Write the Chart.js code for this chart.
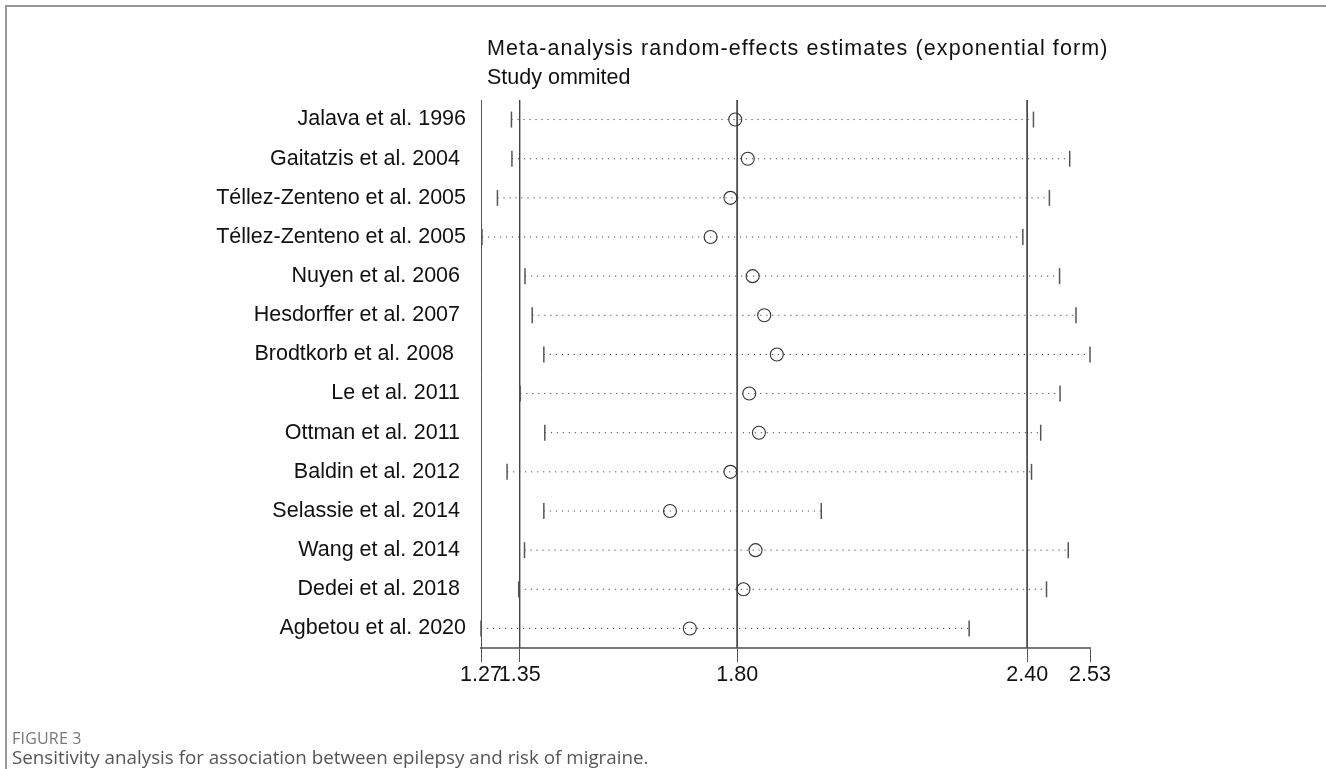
<!DOCTYPE html>
<html>
<head>
<meta charset="utf-8">
<script src="https://cdn.jsdelivr.net/npm/chart.js@4.4.1/dist/chart.umd.min.js"></script>
<style>
  html, body { margin: 0; padding: 0; background: #fff; }
  #page { position: relative; width: 1326px; height: 769px; overflow: hidden; background: #fff; }
  #frame { position: absolute; left: 5px; top: 5px; width: 1321px; height: 764px;
           border-top: 2px solid #999; border-left: 2px solid #999; box-sizing: border-box; }
  #chart { position: absolute; left: 0; top: 0; }
  .title { position: absolute; left: 487px; font-family: "Liberation Sans", Arial, sans-serif;
           font-size: 21.5px; line-height: 29px; color: #111; white-space: nowrap; }
  #figno { position: absolute; left: 12px; top: 728px; font-family: "Open Sans", sans-serif;
           font-size: 16px; line-height: 20px; color: #777; letter-spacing: 0.2px; }
  #caption { position: absolute; left: 12px; top: 745px; font-family: "Open Sans", sans-serif;
           font-size: 18.8px; line-height: 24px; color: #555; white-space: nowrap; }
</style>
</head>
<body>
<div id="page">
  <canvas id="chart" width="1326" height="769"></canvas>
  <div id="frame"></div>
  <div class="title" style="top:34px; letter-spacing:1.1px">Meta-analysis random-effects estimates (exponential form)</div>
  <div class="title" style="top:63px">Study ommited</div>
  <div id="figno">FIGURE 3</div>
  <div id="caption">Sensitivity analysis for association between epilepsy and risk of migraine.</div>
</div>
<script>
// ---- data ----
const studies = [
  "Jalava et al. 1996",
  "Gaitatzis et al. 2004 ",
  "Téllez-Zenteno et al. 2005",
  "Téllez-Zenteno et al. 2005",
  "Nuyen et al. 2006 ",
  "Hesdorffer et al. 2007 ",
  "Brodtkorb et al. 2008  ",
  "Le et al. 2011 ",
  "Ottman et al. 2011 ",
  "Baldin et al. 2012 ",
  "Selassie et al. 2014 ",
  "Wang et al. 2014 ",
  "Dedei et al. 2018 ",
  "Agbetou et al. 2020"
];
const lowerCI  = [1.333, 1.334, 1.304, 1.272, 1.361, 1.376, 1.400, 1.351, 1.402, 1.324, 1.400, 1.360, 1.348, 1.270];
const estimate = [1.796, 1.822, 1.786, 1.745, 1.832, 1.856, 1.882, 1.825, 1.845, 1.786, 1.661, 1.838, 1.813, 1.702];
const upperCI  = [2.413, 2.488, 2.446, 2.391, 2.467, 2.501, 2.530, 2.468, 2.428, 2.409, 1.974, 2.485, 2.440, 2.280];
const refLines = [1.35, 1.80, 2.40];
const xTicks   = [1.27, 1.35, 1.80, 2.40, 2.53];
const xMin = 1.27, xMax = 2.53;

const FONT = '"Liberation Sans", Arial, sans-serif';

const datasets = [];
refLines.forEach(r => {
  datasets.push({
    data: [{x: r, y: -0.5}, {x: r, y: studies.length - 0.5}],
    showLine: true, borderColor: '#444', borderWidth: 1, pointRadius: 0, clip: false, order: 3
  });
});
studies.forEach((s, i) => {
  datasets.push({
    data: [{x: lowerCI[i], y: i}, {x: upperCI[i], y: i}],
    showLine: true, borderColor: '#4a4a4a', borderWidth: 1, borderDash: [1.2, 4.8],
    pointStyle: 'line', rotation: 90, pointRadius: 8, pointHoverRadius: 8,
    pointBorderColor: '#555', pointBorderWidth: 1.5, clip: false, order: 2
  });
});
datasets.push({
  data: estimate.map((v, i) => ({x: v, y: i})),
  showLine: false, pointStyle: 'circle', pointRadius: 6.5, pointHoverRadius: 6.5,
  pointBorderColor: '#333', pointBackgroundColor: 'rgba(0,0,0,0)', pointBorderWidth: 1.1,
  clip: false, order: 1
});

new Chart(document.getElementById('chart'), {
  type: 'scatter',
  data: { datasets },
  options: {
    responsive: false,
    animation: false,
    events: [],
    layout: { padding: { left: 0, top: 100, right: 236, bottom: 71 } },
    plugins: { legend: { display: false }, tooltip: { enabled: false }, title: { display: false } },
    scales: {
      x: {
        type: 'linear', min: xMin, max: xMax,
        afterBuildTicks: s => { s.ticks = xTicks.map(v => ({ value: v })); },
        afterFit: s => { s.height = 50; s.paddingLeft = 0; s.paddingRight = 0; },
        ticks: {
          autoSkip: false, maxRotation: 0, minRotation: 0, padding: 0,
          color: '#111', font: { family: FONT, size: 21.5 },
          callback: v => Number(v).toFixed(2)
        },
        grid: { display: true, drawOnChartArea: false, drawTicks: true, tickLength: 14, color: '#555', lineWidth: 1 },
        border: { display: true, color: '#7a7a7a', width: 2 }
      },
      y: {
        type: 'linear', reverse: true, min: -0.5, max: studies.length - 0.5,
        afterBuildTicks: s => { s.ticks = studies.map((_, i) => ({ value: i })); },
        afterFit: s => { s.width = 481; s.paddingTop = 0; s.paddingBottom = 0; },
        ticks: {
          autoSkip: false, padding: 7, color: '#111', font: { family: FONT, size: 21.5 },
          callback: (v, idx) => studies[idx]
        },
        grid: { display: false },
        border: { display: true, color: '#555', width: 1 }
      }
    }
  }
});
</script>
</body>
</html>
